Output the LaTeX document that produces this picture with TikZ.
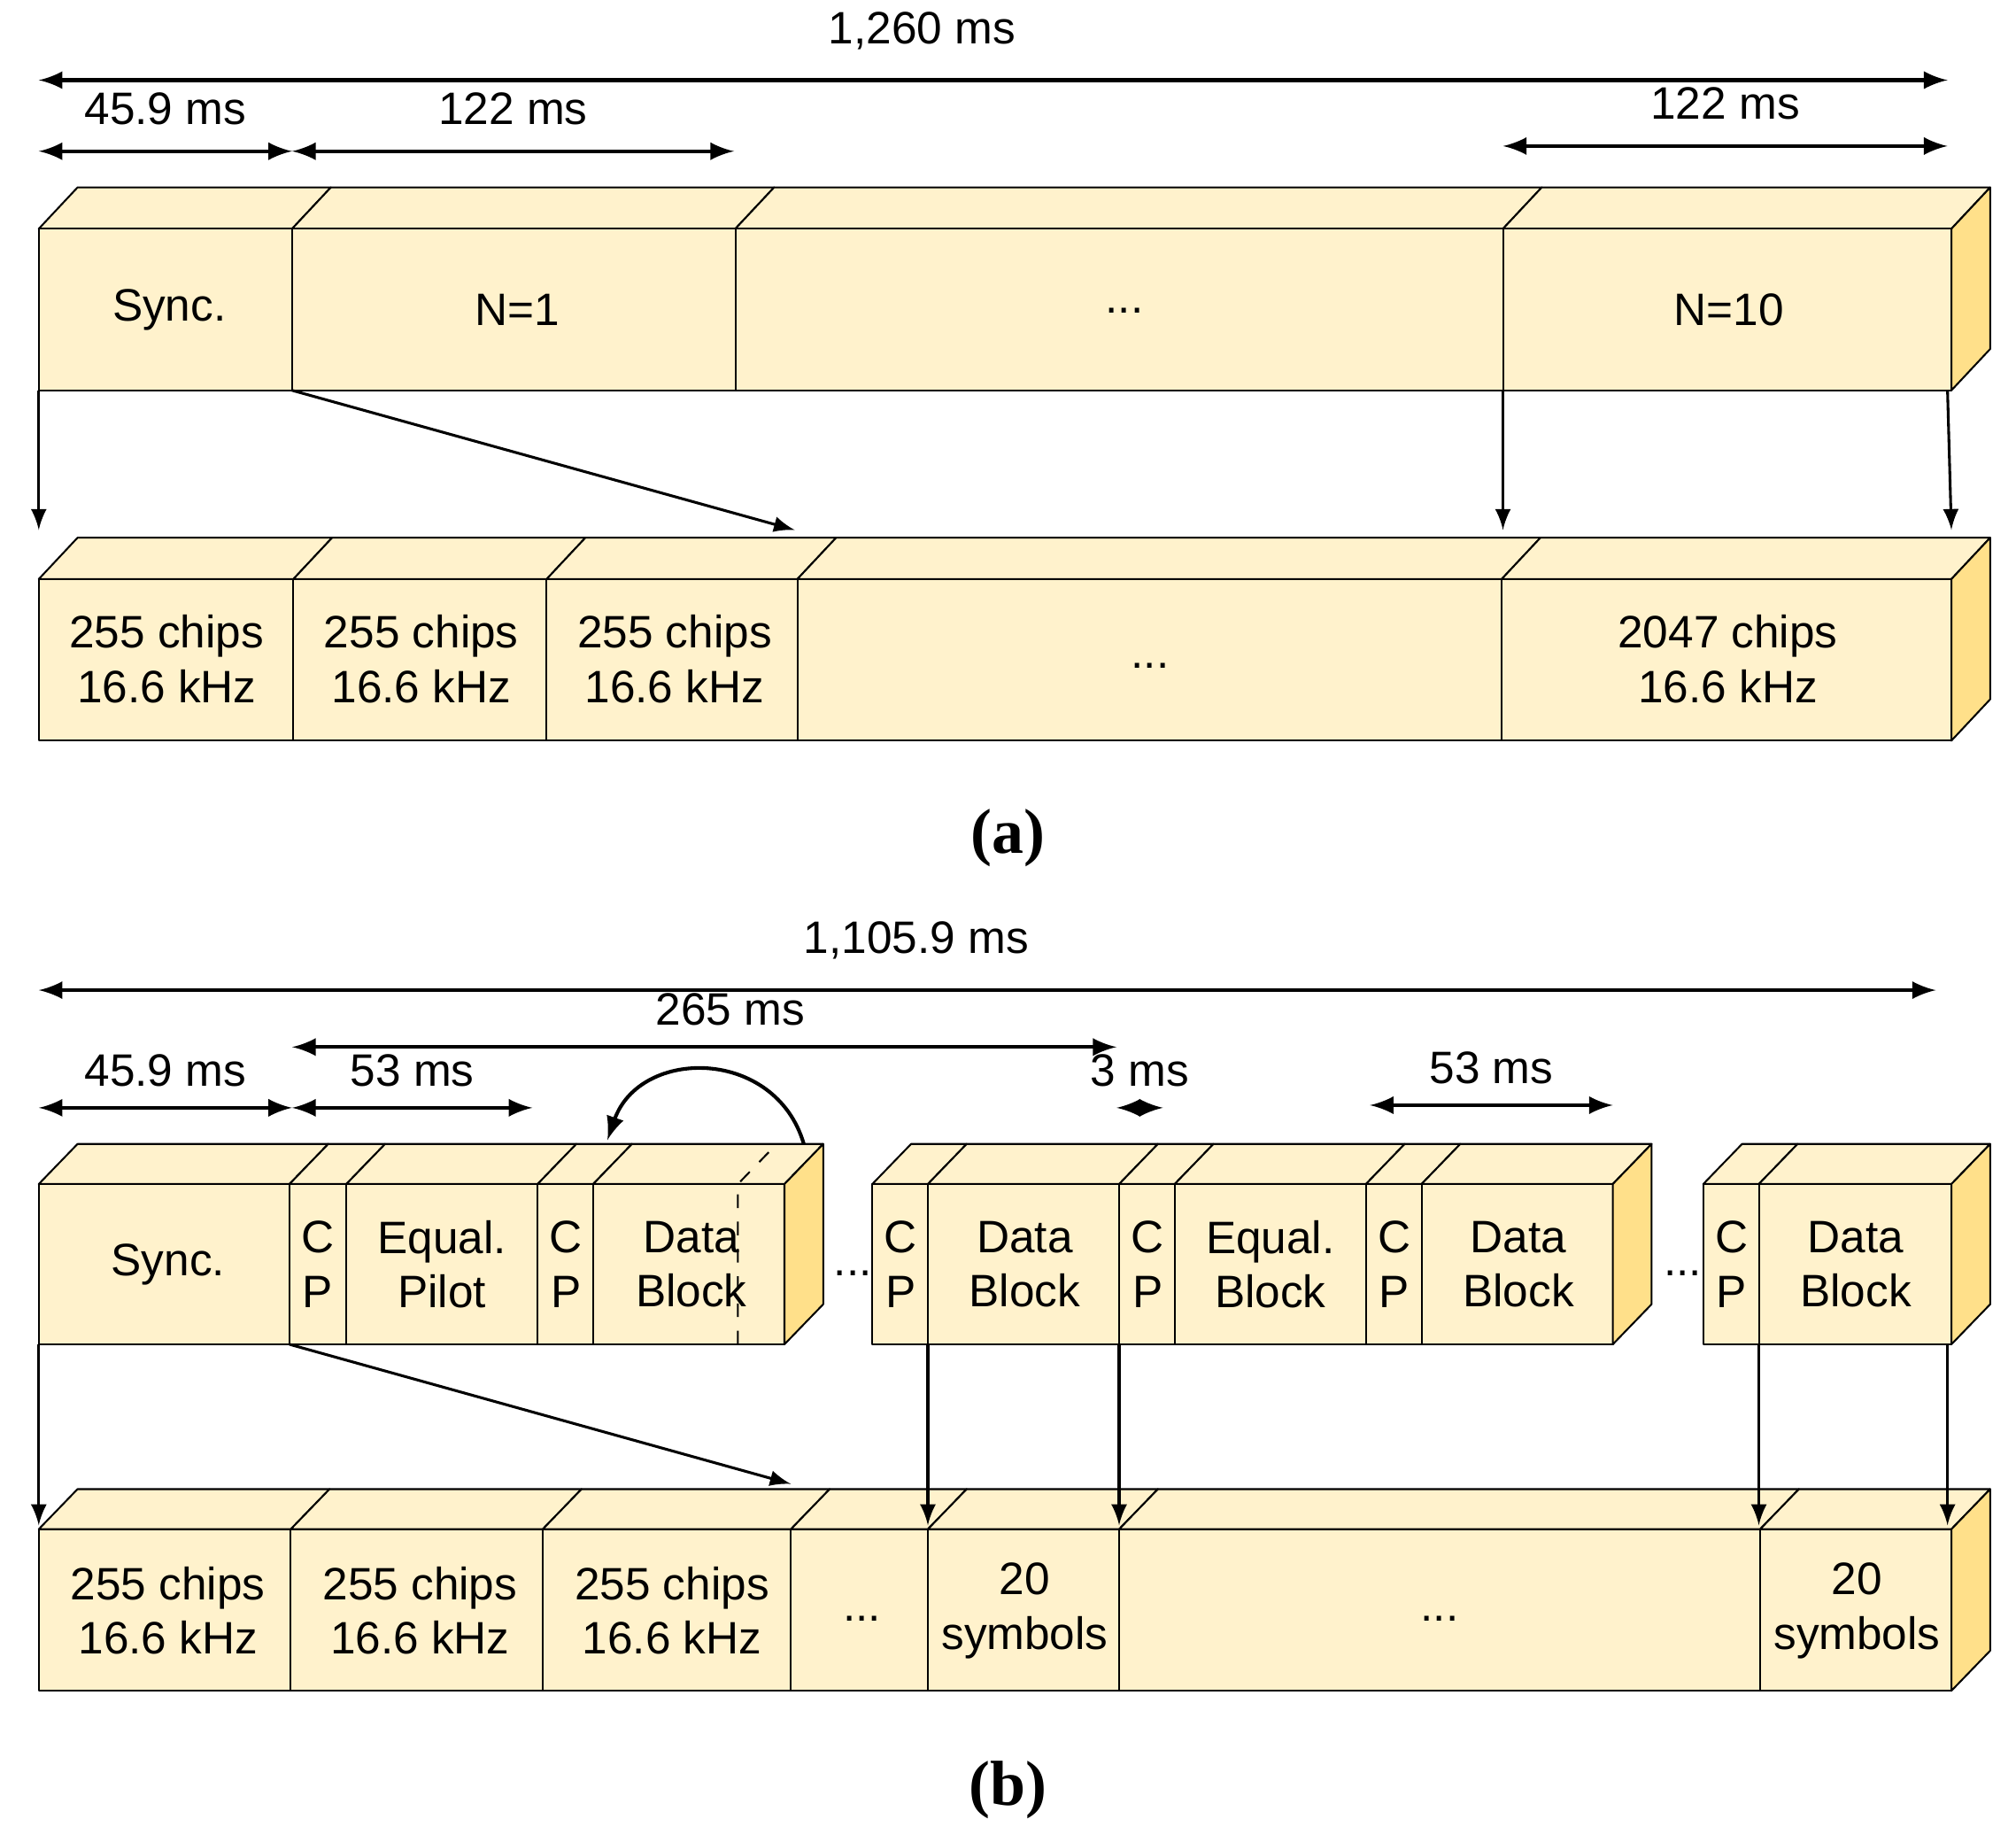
\documentclass[tikz,border=0pt]{standalone}
\usepackage{fontspec}
\setmainfont{Liberation Sans}
\newfontfamily\capfont{Liberation Serif}
\definecolor{facefront}{HTML}{FFF2CC}
\definecolor{faceside}{HTML}{FFE08A}
\begin{document}
\begin{tikzpicture}[x=0.01cm, y=-0.01cm, >=latex,
                    font=\fontsize{10}{12}\selectfont]
% styles
\tikzset{face/.style={fill=facefront,draw=black,line join=round},
         side/.style={fill=faceside,draw=black,line join=round},
         span/.style={<->,thick},
         drop/.style={->,semithick},
         lbl/.style={align=center,inner sep=0pt}}
\useasboundingbox (0,0) rectangle (1560,1413);

%% (a) upper row
\foreach \a/\b in {30/226,226/569,569/1163,1163/1510}{
  \draw[face] (\a,177) -- (\a+30,145) -- (\b+30,145) -- (\b,177) -- cycle;
  \draw[face] (\a,177) rectangle (\b,302);}
\draw[side] (1510,177) -- (1540,145) -- (1540,270) -- (1510,302) -- cycle;
\node[lbl] (aS) at (131,240) {Sync.};
\node[lbl] (aN1) at (400,240) {N=1};
\node[lbl] (aDots) at (870,240) {...};
\node[lbl] (aN10) at (1338,240) {N=10};

%% (a) lower row
\foreach \a/\b in {30/227,227/423,423/617,617/1162,1162/1510}{
  \draw[face] (\a,448) -- (\a+30,416) -- (\b+30,416) -- (\b,448) -- cycle;
  \draw[face] (\a,448) rectangle (\b,573);}
\draw[side] (1510,448) -- (1540,416) -- (1540,541) -- (1510,573) -- cycle;
\foreach \n/\x in {1/129,2/326,3/522}
  \node[lbl] (ac\n) at (\x,510) {255 chips\\16.6 kHz};
\node[lbl] (acDots) at (890,515) {...};
\node[lbl] (acL) at (1337,510) {2047 chips\\16.6 kHz};

% (a) spans
\coordinate (a0) at (30,62);  \coordinate (a1) at (1507,62);
\draw[span] (a0) -- node[above=3pt,xshift=-0.55cm] {1,260 ms} (a1);
\coordinate (a2) at (30,117); \coordinate (a3) at (226,117); \coordinate (a4) at (568,117);
\draw[span] (a2) -- node[above=2pt] {45.9 ms} (a3);
\draw[span] (a3) -- node[above=2pt] {122 ms} (a4);
\coordinate (a5) at (1163,113); \coordinate (a6) at (1507,113);
\draw[span] (a5) -- node[above=2pt] {122 ms} (a6);

% (a) drops
\draw[drop] (30,302) -- (30,410);
\draw[drop] (226,302) -- (615,410);
\draw[drop] (1163,302) -- (1163,410);
\draw[drop] (1507,302) -- (1510,410);
\node[font=\capfont\bfseries\fontsize{14}{16}\selectfont] (capa) at (780,648) {(a)};

%% (b) upper groups
\foreach \a/\b in {30/224,224/268,268/416,416/459,459/607,
                   675/718,718/866,866/909,909/1057,1057/1100,1100/1248,
                   1318/1361,1361/1510}{
  \draw[face] (\a,916) -- (\a+30,885) -- (\b+30,885) -- (\b,916) -- cycle;
  \draw[face] (\a,916) rectangle (\b,1040);}
\draw[side] (607,916) -- (637,885) -- (637,1009) -- (607,1040) -- cycle;
\draw[side] (1248,916) -- (1278,885) -- (1278,1009) -- (1248,1040) -- cycle;
\draw[side] (1510,916) -- (1540,885) -- (1540,1009) -- (1510,1040) -- cycle;
\draw[dashed] (571,1040) -- (571,916) -- (601,885);
\node[lbl] (bS) at (130,978) {Sync.};
\foreach \n/\x in {1/246,2/438,3/697,4/888,5/1079,6/1340}
  \node[lbl] (bcp\n) at (\x,978) {C\\P};
\node[lbl] (bEP) at (342,978) {Equal.\\Pilot};
\node[lbl] (bD1) at (535,978) {Data\\Block};
\node[lbl] (bD2) at (793,978) {Data\\Block};
\node[lbl] (bEB) at (983,978) {Equal.\\Block};
\node[lbl] (bD3) at (1175,978) {Data\\Block};
\node[lbl] (bD4) at (1436,978) {Data\\Block};
\node[lbl] (bg1) at (660,985) {...};
\node[lbl] (bg2) at (1302,985) {...};
\draw[->,thick] (622,885) .. controls (600,810) and (495,810) .. (470,882);

%% (b) lower row
\foreach \a/\b in {30/225,225/420,420/612,612/718,718/866,866/1362,1362/1510}{
  \draw[face] (\a,1183) -- (\a+30,1152) -- (\b+30,1152) -- (\b,1183) -- cycle;
  \draw[face] (\a,1183) rectangle (\b,1308);}
\draw[side] (1510,1183) -- (1540,1152) -- (1540,1277) -- (1510,1308) -- cycle;
\foreach \n/\x in {1/130,2/325,3/520}
  \node[lbl] (bc\n) at (\x,1246) {255 chips\\16.6 kHz};
\node[lbl] (bcD1) at (667,1252) {...};
\node[lbl] (bs1) at (793,1246) {20\\symbols};
\node[lbl] (bcD2) at (1114,1252) {...};
\node[lbl] (bs2) at (1437,1246) {20\\symbols};

% (b) spans
\coordinate (b0) at (30,766);  \coordinate (b1) at (1498,766);
\draw[span] (b0) -- node[above=3pt,xshift=-0.55cm] {1,105.9 ms} (b1);
\coordinate (b2) at (226,810); \coordinate (b3) at (864,810);
\draw[span] (b2) -- node[above=1pt,xshift=0.2cm] {265 ms} (b3);
\coordinate (b4) at (30,857); \coordinate (b5) at (226,857); \coordinate (b6) at (412,857);
\draw[span] (b4) -- node[above=1pt] {45.9 ms} (b5);
\draw[span] (b5) -- node[above=1pt] {53 ms} (b6);
\coordinate (b7) at (864,857); \coordinate (b8) at (900,857);
\draw[span] (b7) -- node[above=1pt] {3 ms} (b8);
\coordinate (b9) at (1060,855); \coordinate (b10) at (1248,855);
\draw[span] (b9) -- node[above=1pt] {53 ms} (b10);

% (b) drops
\draw[drop] (30,1040) -- (30,1180);
\draw[drop] (224,1040) -- (612,1148);
\foreach \x in {718,866,1361,1507}
  \draw[drop] (\x,1040) -- (\x,1180);
\node[font=\capfont\bfseries\fontsize{14}{16}\selectfont] (capb) at (780,1385) {(b)};
\end{tikzpicture}
\end{document}
